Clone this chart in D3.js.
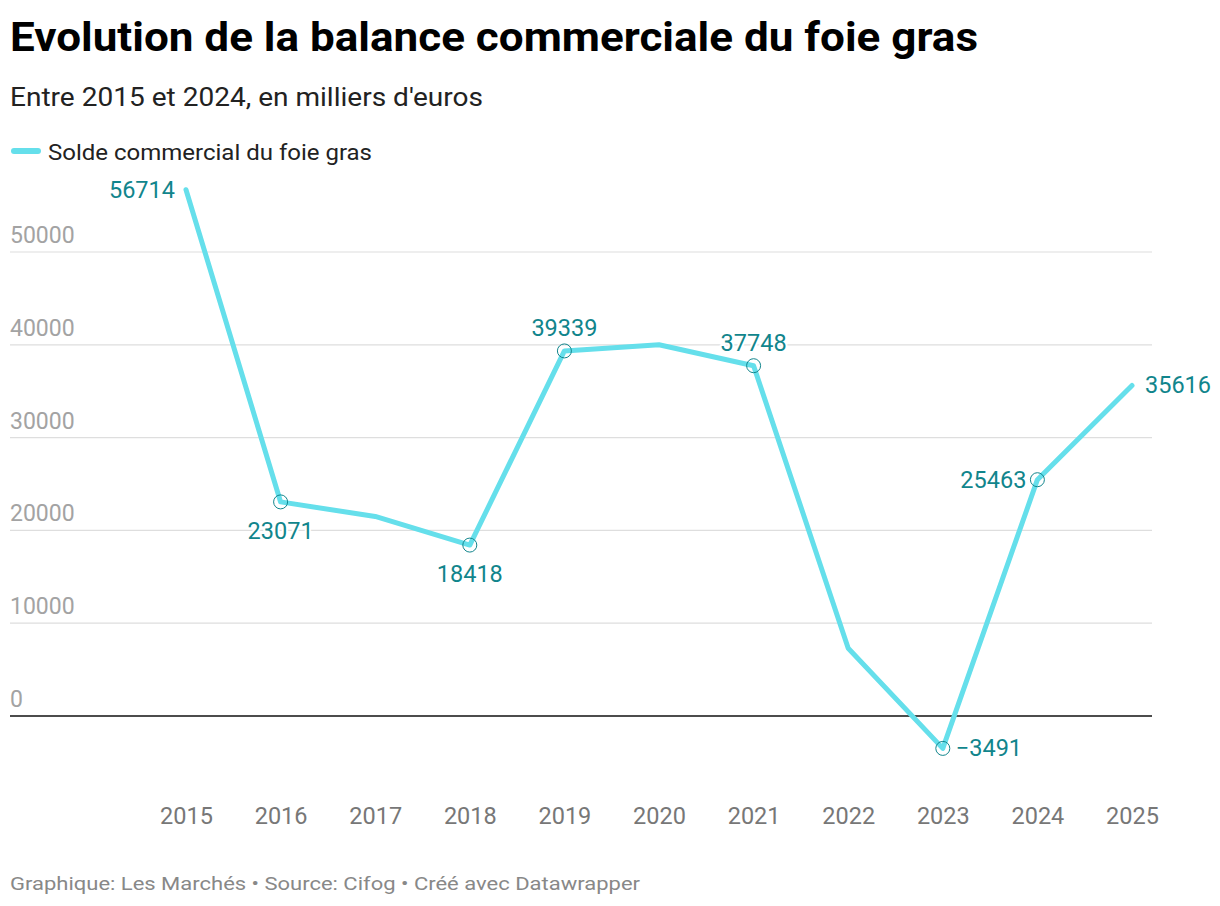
<!DOCTYPE html>
<html><head><meta charset="utf-8">
<script src="https://cdn.jsdelivr.net/npm/d3@7"></script>
<style>
body{margin:0;background:#fff;}
text{font-family:Roboto,"Noto Sans",sans-serif;}
</style></head>
<body><svg id="c" width="1220" height="906"></svg>
<script>
const years = [2015,2016,2017,2018,2019,2020,2021,2022,2023,2024,2025];
const values = [56714,23071,21500,18418,39339,40000,37748,7300,-3491,25463,35616];
const yTicks = [0,10000,20000,30000,40000,50000];
const labeled = {2015:"left",2016:"below",2018:"below",2019:"above",2021:"above",2023:"right",2024:"left",2025:"right"};
const markers = [2016,2018,2019,2021,2023,2024];
const title = "Evolution de la balance commerciale du foie gras";
const subtitle = "Entre 2015 et 2024, en milliers d'euros";
const legendLabel = "Solde commercial du foie gras";
const footer = "Graphique: Les Marchés • Source: Cifog • Créé avec Datawrapper";

const svg = d3.select("#c");
const lineColor = "#65dfeb", labelColor = "#11858c";

svg.append("text").attr("x",10).attr("y",51).attr("font-size",40).attr("font-weight",700)
  .attr("fill","#000").attr("textLength",968).attr("lengthAdjust","spacingAndGlyphs").text(title);
svg.append("text").attr("x",10).attr("y",106).attr("font-size",26).attr("fill","#222")
  .attr("textLength",473).attr("lengthAdjust","spacingAndGlyphs").text(subtitle);
svg.append("line").attr("x1",14).attr("x2",38).attr("y1",151).attr("y2",151)
  .attr("stroke",lineColor).attr("stroke-width",6).attr("stroke-linecap","round");
svg.append("text").attr("x",48).attr("y",160).attr("font-size",22).attr("fill","#222")
  .attr("textLength",324).attr("lengthAdjust","spacingAndGlyphs").text(legendLabel);
svg.append("text").attr("x",10).attr("y",890).attr("font-size",19).attr("fill","#888")
  .attr("textLength",630).attr("lengthAdjust","spacingAndGlyphs").text(footer);

const x = d3.scalePoint().domain(years).range([186,1132]);
const y = d3.scaleLinear().domain([0,50000]).range([716,252]);

const grid = svg.append("g");
yTicks.forEach(t=>{
  if(t!==0) grid.append("line").attr("x1",10).attr("x2",1152).attr("y1",y(t)).attr("y2",y(t))
    .attr("stroke","#dedede").attr("stroke-width",1.2);
  grid.append("text").attr("x",10).attr("y",y(t)-9).attr("font-size",23).attr("fill","#a3a3a3").text(t);
});
svg.append("line").attr("x1",10).attr("x2",1152).attr("y1",y(0)).attr("y2",y(0))
  .attr("stroke","#111").attr("stroke-width",1.6);

const xAxis = svg.append("g").attr("transform","translate(0,806)")
  .call(d3.axisBottom(x).tickSize(0).tickPadding(0));
xAxis.select(".domain").remove();
xAxis.selectAll("text").attr("font-size",23.5).attr("fill","#777").attr("dy","0.75em")
  .style("font-family","Roboto,sans-serif");

const data = years.map((yr,i)=>({year:yr,value:values[i]}));
svg.append("path").datum(data)
  .attr("d", d3.line().x(d=>x(d.year)).y(d=>y(d.value)))
  .attr("fill","none").attr("stroke",lineColor).attr("stroke-width",5)
  .attr("stroke-linejoin","round").attr("stroke-linecap","round");

svg.selectAll("circle.m").data(data.filter(d=>markers.includes(d.year))).join("circle")
  .attr("cx",d=>x(d.year)).attr("cy",d=>y(d.value)).attr("r",7)
  .attr("fill","none").attr("stroke",labelColor).attr("stroke-width",1);

const fmt = v => v<0 ? "\u2212"+Math.abs(v) : String(v);
data.filter(d=>labeled[d.year]).forEach(d=>{
  const pos = labeled[d.year];
  const px = x(d.year), py = y(d.value);
  let tx=px, ty=py, anchor="middle";
  if(pos==="left"){tx=px-11; ty=py+8; anchor="end";}
  if(pos==="right"){tx=px+13; ty=py+8; anchor="start";}
  if(pos==="above"){ty=py-15;}
  if(pos==="below"){ty=py+37;}
  svg.append("text").attr("x",tx).attr("y",ty).attr("text-anchor",anchor)
    .attr("font-size",23.5).attr("fill",labelColor)
    .attr("stroke","#fff").attr("stroke-width",4).attr("paint-order","stroke")
    .attr("stroke-linejoin","round").text(fmt(d.value));
});
</script></body></html>
